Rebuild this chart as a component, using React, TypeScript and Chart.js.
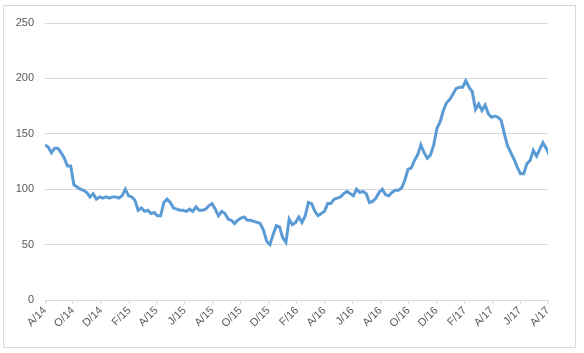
import React, { useEffect, useRef } from "react";
import { Chart, registerables } from "chart.js";

Chart.register(...registerables);

const startDate = "2014-08-01";
const endDate = "2017-08-01";
const sampleStepDays = 7;

// weekly readings starting at startDate
const weeklyValues = [
  140, 138, 133, 137, 137, 133, 128, 121, 121, 104,
  102, 100, 99, 97, 93, 96, 91, 93, 92, 93,
  92, 93, 93, 92, 94, 100, 94, 93, 90, 81,
  83, 80, 81, 78, 79, 76, 76, 88, 91, 88,
  83, 82, 81, 81, 80, 82, 80, 84, 81, 81,
  82, 85, 87, 82, 76, 80, 78, 73, 72, 69,
  72, 74, 75, 72, 72, 71, 70, 69, 63, 53,
  50, 59, 67, 66, 56, 52, 73, 68, 70, 75,
  70, 76, 88, 87, 80, 76, 78, 80, 87, 87,
  91, 92, 93, 96, 98, 96, 94, 100, 97, 98,
  96, 88, 89, 92, 97, 100, 95, 94, 97, 99,
  99, 101, 108, 118, 119, 126, 131, 140, 133, 128,
  131, 140, 155, 161, 171, 178, 181, 186, 191, 192,
  192, 198, 192, 188, 172, 177, 171, 176, 168, 165,
  166, 165, 162, 150, 139, 133, 127, 120, 114, 114,
  123, 126, 135, 130, 136, 142, 137, 131,
];

const tickDates = [
  "2014-08-01", "2014-10-01", "2014-12-01", "2015-02-01", "2015-04-01",
  "2015-06-01", "2015-08-01", "2015-10-01", "2015-12-01", "2016-02-01",
  "2016-04-01", "2016-06-01", "2016-08-01", "2016-10-01", "2016-12-01",
  "2017-02-01", "2017-04-01", "2017-06-01", "2017-08-01",
];
const tickLabels = [
  "A/14", "O/14", "D/14", "F/15", "A/15", "J/15", "A/15", "O/15", "D/15", "F/16",
  "A/16", "J/16", "A/16", "O/16", "D/16", "F/17", "A/17", "J/17", "A/17",
];
const yMin = 0;
const yMax = 250;
const yStep = 50;

const dayMs = 86400000;
const dayOffset = (d: string) => (Date.parse(d) - Date.parse(startDate)) / dayMs;

const frame = {
  id: "frame",
  beforeDraw(chart: any) {
    const { ctx, width, height } = chart;
    ctx.save();
    ctx.fillStyle = "#ffffff";
    ctx.fillRect(0, 0, width, height);
    ctx.strokeStyle = "#d9d9d9";
    ctx.lineWidth = 1;
    ctx.strokeRect(3.5, 5.5, 572, 342);
    ctx.restore();
  },
};

export default function App() {
  const ref = useRef<HTMLCanvasElement | null>(null);
  useEffect(() => {
    if (!ref.current) return;
    const tickValues = tickDates.map(dayOffset);
    const chart = new Chart(ref.current, {
      type: "line",
      data: {
        datasets: [
          {
            data: weeklyValues.map((v, i) => ({ x: i * sampleStepDays, y: v })),
            borderColor: "#5b9bd5",
            borderWidth: 3,
            pointRadius: 0,
            tension: 0,
            fill: false,
          },
        ],
      },
      options: {
        animation: false,
        responsive: false,
        maintainAspectRatio: false,
        layout: { padding: { left: 0, right: 36, top: 23, bottom: 0 } },
        plugins: { legend: { display: false }, tooltip: { enabled: false } },
        scales: {
          x: {
            type: "linear",
            min: 0,
            max: dayOffset(endDate),
            afterBuildTicks: (scale: any) => {
              scale.ticks = tickValues.map((v) => ({ value: v }));
            },
            afterFit: (scale: any) => {
              scale.height = 53;
            },
            grid: {
              drawOnChartArea: false,
              drawTicks: true,
              tickLength: 4,
              color: "#d9d9d9",
            },
            border: { display: true, color: "#d9d9d9" },
            ticks: {
              autoSkip: false,
              minRotation: 45,
              maxRotation: 45,
              padding: 0,
              color: "#595959",
              font: { family: "'Liberation Sans', Arial, sans-serif", size: 11 },
              callback: (_v: any, i: number) => tickLabels[i],
            },
          },
          y: {
            min: yMin,
            max: yMax,
            afterFit: (scale: any) => {
              scale.width = 45;
            },
            grid: { color: "#d9d9d9", drawTicks: false },
            border: { display: false },
            ticks: {
              stepSize: yStep,
              padding: 11,
              color: "#595959",
              font: { family: "'Liberation Sans', Arial, sans-serif", size: 11 },
            },
          },
        },
      },
      plugins: [frame],
    });
    return () => chart.destroy();
  }, []);
  return (
    <div style={{ position: "fixed", left: 0, top: 0, width: 584, height: 353, background: "#fff" }}>
      <canvas ref={ref} width={584} height={353} style={{ display: "block" }} />
    </div>
  );
}
